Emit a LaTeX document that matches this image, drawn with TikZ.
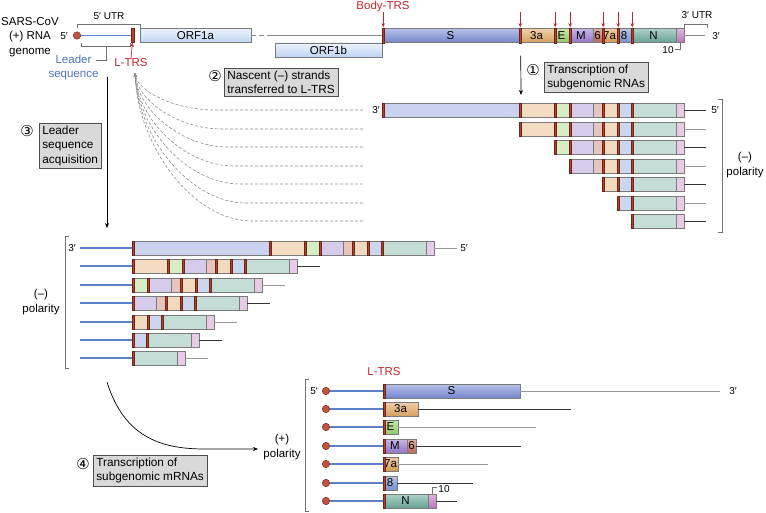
\documentclass[tikz,border=0pt]{standalone}
\usepackage{fontspec}
\setmainfont{Liberation Sans}
\newfontfamily\dvfont{DejaVu Sans}
\usetikzlibrary{arrows.meta,calc}
\definecolor{cS}{HTML}{7B8ED6}
\definecolor{c3a}{HTML}{E2A865}
\definecolor{cE}{HTML}{9BD26A}
\definecolor{cM}{HTML}{9A7CCF}
\definecolor{c6}{HTML}{C36E5C}
\definecolor{c7a}{HTML}{DFA35C}
\definecolor{c8}{HTML}{7C98D6}
\definecolor{cN}{HTML}{6DAA9C}
\definecolor{c10}{HTML}{C27CC4}
\definecolor{cORF}{HTML}{BFD5F2}
\definecolor{trsred}{HTML}{B5412C}
\definecolor{trsdark}{HTML}{6E2418}
\definecolor{txtred}{HTML}{C1272D}
\definecolor{ldblue}{HTML}{4C73C0}
\definecolor{lineblue}{HTML}{5B82C8}
\definecolor{boxgray}{HTML}{D9D9D9}
\definecolor{segline}{HTML}{7A7A7A}
\tikzset{
  segbox/.style={draw=segline, line width=0.5pt, inner sep=0pt, minimum height=14pt, font=\fontsize{11.5}{13}\selectfont},
  orfbox/.style={segbox, top color=cORF!30!white, bottom color=cORF},
  trsfill/.style={fill=trsred, draw=trsdark, line width=0.3pt},
  dkline/.style={draw=black!80, line width=0.7pt},
  ltline/.style={draw=black!40, line width=0.9pt},
  gline/.style={draw=black!45, line width=0.9pt},
  bline/.style={draw=lineblue, line width=1.2pt},
  brk/.style={draw=black!55, line width=0.6pt},
  redarr/.style={draw=txtred, line width=0.7pt, -{Stealth[length=4pt,width=3.5pt]}},
  blkarr/.style={draw=black, line width=0.7pt, -{Stealth[length=5pt,width=4pt]}},
  dcurve/.style={draw=black!45, line width=0.6pt, dash pattern=on 3pt off 2pt, -{Stealth[length=4pt,width=3pt]}},
  txt/.style={inner sep=0pt, font=\fontsize{11.5}{14.5}\selectfont, align=center},
  smalltxt/.style={inner sep=0pt, font=\fontsize{10}{12}\selectfont},
  stepbox/.style={draw=black!70, fill=boxgray, line width=0.6pt, inner xsep=3pt, inner ysep=2.5pt, align=left, anchor=north west, font=\fontsize{11.8}{14.5}\selectfont},
  stepnum/.style={inner sep=0pt, font=\dvfont\fontsize{15}{15}\selectfont},
  dot/.style={circle, fill=trsred!90!white, draw=trsdark, line width=0.4pt, minimum size=7.5pt, inner sep=0pt}
}
% #1 prefix, #2 origin x, #3 y, #4 first offset, #5 end offset, #6 bright, #7 labels
\newcommand\strandrow[7]{%
  \foreach \sn/\so/\sw/\sc/\tr in {S/0/137/cS/1, 3a/137/35/c3a/1, E/172/15/cE/1, M/187/24/cM/1, 6/211/9/c6/0, 7a/220/15/c7a/1, 8/235/14/c8/1, N/249/45/cN/1, 10/294/8/c10/0}{%
    \ifnum\so<#4\relax\else\ifnum\so<#5\relax
      \ifnum#6=1\relax
        \node[segbox, top color=\sc!55!white, bottom color=\sc!95!black, minimum width=\sw] (#1-\sn) at ({#2+\so+\sw/2},#3) {\ifnum#7=1\relax\ifnum\so=294\relax\else\sn\fi\fi};
      \else
        \node[segbox, fill=\sc!40!white, minimum width=\sw] (#1-\sn) at ({#2+\so+\sw/2},#3) {};
      \fi
      \ifnum\tr=1\relax\filldraw[trsfill] (#1-\sn.north west) rectangle ([xshift=2.5pt]#1-\sn.south west);\fi
    \fi\fi}}
\begin{document}
\begin{tikzpicture}[x=1pt, y=-1pt]
\useasboundingbox (0,0) rectangle (766,513);
% ---------- genome ----------
\node[txt] (gname) at (30,37) {SARS-CoV\\(+) RNA\\genome};
\node[smalltxt] (g5) at (64,36) {5′};
\node[segbox, fill=trsred, draw=trsdark, minimum width=3pt] (ltrs) at (132.5,35.5) {};
\node[dot] (gdot) at (77,35.5) {};
\draw[bline] (gdot.east) -- (ltrs.west);
\node[orfbox, minimum width=111] (orf1a) at (195.5,35.5) {ORF1a};
\node[orfbox, minimum width=107] (orf1b) at (328.5,50) {ORF1b};
\strandrow{g}{382}{35.5}{0}{400}{1}{1}
\coordinate (gdash) at (272,35.5);
\draw[gline, dash pattern=on 5pt off 3pt] (orf1a.east) -- (gdash);
\draw[gline] (gdash) -- (g-S.west);
\draw[gline] (g-10.east) -- (705,35.5);
\node[smalltxt] (g3) at (716,36) {3′};
% UTR brackets
\draw[brk] (77,28) -- (77,24) -- (140,24) -- (140,28);
\node[smalltxt] (utr5) at (109,16) {5′ UTR};
\draw[brk] (684,28) -- (684,24) -- (707,24) -- (707,28);
\node[smalltxt] (utr3) at (697,15) {3′ UTR};
\draw[brk] (g-10.south) -- ++(0,7) -- ++(-5,0);
\node[smalltxt] (g10) at (668,50) {10};
% leader bracket
\draw[brk] (81,43) -- (81,46) -- (130,46) -- (130,43);
\node[txt, text=ldblue] (lead) at (73.5,67.5) {Leader\\sequence};
\draw[brk] (106,46) -- (106,60) -- (96,60);
\node[txt, text=txtred] (ltrslab) at (131,63) {L-TRS};
\draw[redarr] (ltrslab.north) -- (ltrs.south);
% body TRS arrows
\node[txt, text=txtred] (btrs) at (383,7) {Body-TRS};
\foreach \n in {S,3a,E,M,7a,8,N}{
  \draw[redarr] ($(g-\n.north west)+(1.5,-16)$) -- ($(g-\n.north west)+(1.5,-1)$);
}
% ---------- step 1 ----------
\draw[blkarr] ($(g-3a.south west)+(2,13)$) coordinate (a1s) -- (521,95) coordinate (a1e);
\node[stepnum] (n1) at (533,70) {①};
\node[stepbox] (s1) at (544,62) {Transcription of\\subgenomic RNAs};
% ---------- (-) strands top ----------
\foreach \i/\yy/\ff/\lc in {1/110/0/dkline, 2/129/137/ltline, 3/147/172/dkline, 4/166/187/ltline, 5/184/220/dkline, 6/203/235/ltline, 7/221/249/dkline}{
  \strandrow{t\i}{382}{\yy}{\ff}{400}{0}{0}
  \draw[\lc] (t\i-10.east) -- ++(22,0);
  \coordinate (d\i) at (363,\yy);
}
\node[smalltxt] (t3p) at (376,110) {3′};
\node[smalltxt] (t5p) at (715,110) {5′};
\draw[brk] (718,99) -- (722,99) -- (722,232) -- (718,232);
\node[txt] (tpol) at (745,165) {(–)\\polarity};
% ---------- step 2 ----------
\coordinate (tip) at (135,73);
\foreach \i/\yy/\xh in {1/110/215, 2/129/222, 3/147/228, 4/166/234, 5/184/240, 6/203/246, 7/221/252}{
  \draw[dcurve] (d\i) -- (\xh,\yy) .. controls ({(\xh+135)/2},\yy) and (138,{(\yy+73)/2}) .. (tip);
}
\node[stepnum] (n2) at (215,76) {②};
\node[stepbox] (s2) at (224,68) {Nascent (–) strands\\transferred to L-TRS};
% ---------- step 3 ----------
\coordinate (a3s) at (107,77);
\coordinate (a3e) at (107,228);
\draw[blkarr] (a3s) -- (a3e);
\node[stepnum] (n3) at (27,131) {③};
\node[stepbox] (s3) at (39,123) {Leader\\sequence\\acquisition};
% ---------- (-) strands middle ----------
\foreach \i/\yy/\ff/\fn/\lc in {1/248/0/S/ltline, 2/266/137/3a/dkline, 3/285/172/E/ltline, 4/303/187/M/dkline, 5/322/220/7a/ltline, 6/340/235/8/dkline, 7/358/249/N/ltline}{
  \strandrow{m\i}{132-\ff}{\yy}{\ff}{400}{0}{0}
  \draw[bline] (80,\yy) -- (m\i-\fn.west);
  \draw[\lc] (m\i-10.east) -- ++(23,0);
}
\node[smalltxt] (m3p) at (72,248) {3′};
\node[smalltxt] (m5p) at (464,248) {5′};
\draw[brk] (69,236) -- (65,236) -- (65,368) -- (69,368);
\node[txt] (mpol) at (41,302) {(–)\\polarity};
% ---------- step 4 ----------
\coordinate (a4s) at (107,382);
\coordinate (a4e) at (258,449);
\draw[blkarr] (a4s) .. controls (125,440) and (165,449) .. (205,449) -- (a4e);
\node[txt] (bpol) at (282,447) {(+)\\polarity};
\node[stepnum] (n4) at (83,464) {④};
\node[stepbox] (s4) at (93,455) {Transcription of\\subgenomic mRNAs};
% ---------- (+) mRNAs ----------
\foreach \i/\yy/\ff/\ee/\fn/\ln/\xe/\lc in {1/391/0/137/S/S/720/ltline, 2/409/137/172/3a/3a/571/dkline, 3/427/172/187/E/E/536/ltline, 4/446/187/220/M/6/521/dkline, 5/464/220/235/7a/7a/488/ltline, 6/483/235/249/8/8/473/dkline, 7/501/249/302/N/10/457/dkline}{
  \strandrow{b\i}{383-\ff}{\yy}{\ff}{\ee}{1}{1}
  \node[dot] (c\i) at (326,\yy) {};
  \draw[bline] (c\i.east) -- (b\i-\fn.west);
  \draw[\lc] (b\i-\ln.east) -- (\xe,\yy);
}
\node[smalltxt] (b5p) at (314,391) {5′};
\node[smalltxt] (b3p) at (733,391) {3′};
\node[txt, text=txtred] (bltrs) at (384,372) {L-TRS};
\draw[brk] (309,379) -- (305,379) -- (305,511) -- (309,511);
\draw[brk] (b7-10.north) -- ++(0,-6) -- ++(5,0);
\node[smalltxt] (b10) at (444,489) {10};
\end{tikzpicture}
\end{document}
